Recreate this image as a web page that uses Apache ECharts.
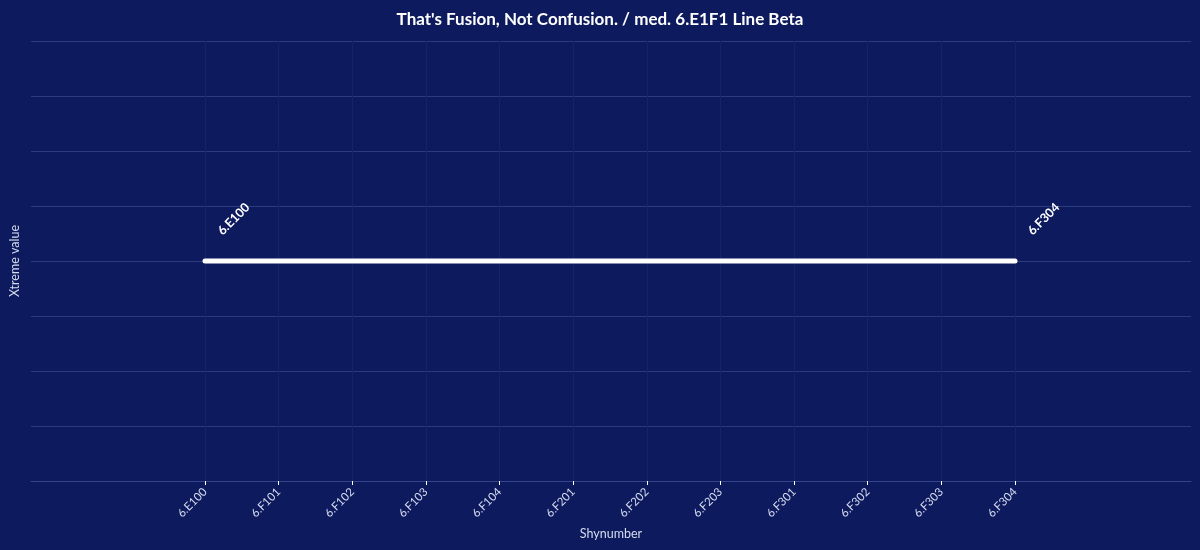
<!DOCTYPE html>
<html>
<head>
<meta charset="utf-8">
<script src="https://cdn.jsdelivr.net/npm/echarts@6/dist/echarts.min.js"></script>
<style>
html,body{margin:0;padding:0;background:#0d1b5e;}
#chart{width:1200px;height:550px;}
</style>
</head>
<body>
<div id="chart"></div>
<script>
const titleText = "That's Fusion, Not Confusion. / med. 6.E1F1 Line Beta";
const categories = ["6.E100","6.F101","6.F102","6.F103","6.F104","6.F201","6.F202","6.F203","6.F301","6.F302","6.F303","6.F304"];
const lineValues = [4,4,4,4,4,4,4,4,4,4,4,4];
const yMin = 0, yMax = 8, yInterval = 1;
const xName = "Shynumber";
const yName = "Xtreme value";

const font = "Lato";
const chart = echarts.init(document.getElementById('chart'), null, {renderer:'canvas'});
const lastIdx = categories.length - 1;
const seriesData = lineValues.map((v, i) => {
  const d = {value: v};
  if (i === 0 || i === lastIdx) {
    d.label = {show: true, formatter: categories[i]};
  }
  return d;
});

chart.setOption({
  backgroundColor: '#0d1b5e',
  animation: false,
  title: {
    text: titleText, left: 'center', top: 6,
    textStyle: {color: '#ffffff', fontFamily: font, fontWeight: 'bold', fontSize: 17}
  },
  grid: [
    {left: 28, right: 9, top: 41, bottom: 69},
    {left: 205, right: 185, top: 41, bottom: 69}
  ],
  xAxis: [
    {
      gridIndex: 0, type: 'value', min: 0, max: 1,
      axisLine: {show: true, onZero: false, lineStyle: {color: '#34448a', width: 1}},
      axisTick: {show: false}, axisLabel: {show: false}, splitLine: {show: false},
      name: xName, nameLocation: 'middle', nameGap: 46,
      nameTextStyle: {color: '#d6dbf0', fontFamily: font, fontSize: 12.5}
    },
    {
      gridIndex: 1, type: 'category', data: categories, boundaryGap: false,
      axisLine: {show: false},
      axisTick: {show: true, length: 4, alignWithLabel: true, lineStyle: {color: '#ffffff', width: 1}},
      axisLabel: {rotate: 45, color: '#d6dbf0', fontFamily: font, fontSize: 11.5, margin: 9, interval: 0},
      splitLine: {show: true, lineStyle: {color: '#16245f', width: 1}}
    }
  ],
  yAxis: [
    {
      gridIndex: 0, type: 'value', min: yMin, max: yMax, interval: yInterval,
      axisLine: {show: false}, axisTick: {show: false}, axisLabel: {show: false},
      splitLine: {show: true, lineStyle: {color: '#2c3b7e', width: 1}},
      name: yName, nameLocation: 'middle', nameGap: 10,
      nameTextStyle: {color: '#d6dbf0', fontFamily: font, fontSize: 12.5}
    },
    {
      gridIndex: 1, type: 'value', min: yMin, max: yMax, interval: yInterval,
      axisLine: {show: false}, axisTick: {show: false}, axisLabel: {show: false},
      splitLine: {show: false}
    }
  ],
  series: [{
    type: 'line', xAxisIndex: 1, yAxisIndex: 1,
    data: seriesData,
    showSymbol: true, symbol: 'circle', symbolSize: 0,
    itemStyle: {color: '#ffffff'},
    lineStyle: {color: '#ffffff', width: 5, cap: 'round'},
    label: {
      show: false, position: 'top', rotate: 45, align: 'left', verticalAlign: 'bottom',
      distance: 16, offset: [19, 8.5],
      color: '#ffffff', fontFamily: font, fontWeight: 'bold', fontSize: 12.5
    }
  }]
});
</script>
</body>
</html>
